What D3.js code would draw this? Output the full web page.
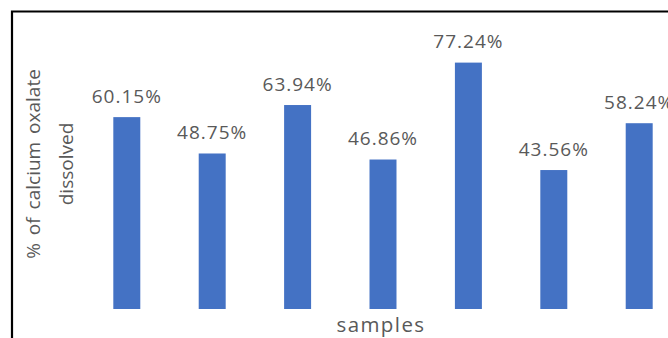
<!DOCTYPE html>
<html>
<head>
<meta charset="utf-8">
<script src="https://cdn.jsdelivr.net/npm/d3@7"></script>
<style>
  html, body { margin: 0; padding: 0; background: #fff; overflow: hidden; }
  svg { display: block; }
  text { font-family: "Open Sans", "Noto Sans", sans-serif; fill: #595959; }
</style>
</head>
<body>
<script>
const categories = ["S1", "S2", "S3", "S4", "S5", "S6", "S7"];
const values = [60.15, 48.75, 63.94, 46.86, 77.24, 43.56, 58.24];
const labels = ["60.15%", "48.75%", "63.94%", "46.86%", "77.24%", "43.56%", "58.24%"];
const yTitleLines = ["% of calcium oxalate", "dissolved"];
const xTitle = "samples";

const W = 668, H = 338;
const svg = d3.select("body").append("svg").attr("width", W).attr("height", H);
svg.append("rect").attr("width", W).attr("height", H).attr("fill", "#fff");

const x = d3.scaleBand().domain(categories).range([84.1, 681.9])
  .paddingInner(0.684).paddingOuter(0.342);
const y = d3.scaleLinear().domain([0, 90]).range([309, 21.9]);

const data = categories.map((c, i) => ({ c, v: values[i], label: labels[i] }));

svg.selectAll("rect.bar").data(data).enter().append("rect")
  .attr("class", "bar")
  .attr("x", d => x(d.c))
  .attr("width", x.bandwidth())
  .attr("y", d => y(d.v))
  .attr("height", d => y(0) - y(d.v))
  .attr("fill", "#4472C4");

svg.selectAll("text.lbl").data(data).enter().append("text")
  .attr("class", "lbl")
  .attr("x", d => x(d.c) + x.bandwidth() / 2)
  .attr("y", d => y(d.v) - 14.5)
  .attr("text-anchor", "middle")
  .style("font-size", "19px")
  .style("letter-spacing", "1px")
  .text(d => d.label);

// y axis title (two lines)
yTitleLines.forEach((t, i) => {
  svg.append("text")
    .attr("transform", `translate(${40 + i * 33.3},164) rotate(-90)`)
    .attr("text-anchor", "middle")
    .style("font-size", "19px")
    .style("word-spacing", i === 0 ? "3px" : "0px")
    .text(t);
});

// x axis title
svg.append("text")
  .attr("x", 381)
  .attr("y", 331.5)
  .attr("text-anchor", "middle")
  .style("font-size", "20.5px")
  .style("letter-spacing", "1.4px")
  .text(xTitle);

// chart border (left and top)
svg.append("path")
  .attr("d", `M12,${H + 2} L12,11.5 L${W + 2},11.5`)
  .attr("fill", "none")
  .attr("stroke", "#000")
  .attr("stroke-width", 2.2);
</script>
</body>
</html>
